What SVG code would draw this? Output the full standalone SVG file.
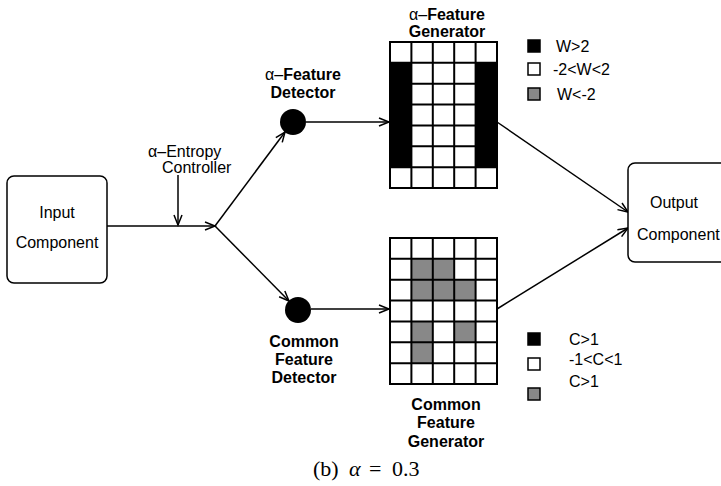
<svg xmlns="http://www.w3.org/2000/svg" width="721" height="486" viewBox="0 0 721 486">
<defs>
<style>
.t{font-family:"Liberation Sans",Arial,sans-serif;font-size:16px;fill:#000}
.b{font-weight:bold}
.lg{font-family:"Liberation Sans",Arial,sans-serif;font-size:16px;fill:#000}
.ln{stroke:#000;stroke-width:1.5;fill:none}
.box{fill:#fff;stroke:#000;stroke-width:1.5}
.gl{stroke:#000;stroke-width:2;fill:none}
.sq{stroke:#000;stroke-width:1.5}
</style>
<marker id="ah" markerUnits="userSpaceOnUse" markerWidth="14" markerHeight="12" refX="11" refY="5" orient="auto">
<path d="M1,1 L11,5 L1,9" fill="none" stroke="#000" stroke-width="1.5"/>
</marker>
</defs>
<rect width="721" height="486" fill="#fff"/>

<g id="connectors">
<line class="ln" x1="107" y1="226" x2="215" y2="226" marker-end="url(#ah)"/>
<line class="ln" x1="178" y1="175" x2="178" y2="225" marker-end="url(#ah)"/>
<line class="ln" x1="215" y1="226" x2="285" y2="132" marker-end="url(#ah)"/>
<line class="ln" x1="215" y1="226" x2="289" y2="301" marker-end="url(#ah)"/>
<line class="ln" x1="306" y1="122" x2="389" y2="122" marker-end="url(#ah)"/>
<line class="ln" x1="311" y1="309" x2="389" y2="309" marker-end="url(#ah)"/>
<line class="ln" x1="497" y1="122" x2="628" y2="212" marker-end="url(#ah)"/>
<line class="ln" x1="497" y1="309" x2="628" y2="228" marker-end="url(#ah)"/>
</g>

<g id="input">
<rect class="box" x="7" y="176" width="100" height="107" rx="7"/>
<text class="t" x="57" y="218" text-anchor="middle">Input</text>
<text class="t" x="57" y="248" text-anchor="middle">Component</text>
</g>

<g id="entropy">
<text class="t" x="148" y="157">α–Entropy</text>
<text class="t" x="162" y="173">Controller</text>
</g>

<g id="alpha-detector">
<circle cx="293" cy="122" r="13" fill="#000"/>
<text class="t b" x="303" y="80" text-anchor="middle"><tspan font-weight="normal">α–</tspan>Feature</text>
<text class="t b" x="303" y="98" text-anchor="middle">Detector</text>
</g>

<g id="common-detector">
<circle cx="298" cy="310" r="13" fill="#000"/>
<text class="t b" x="304" y="347" text-anchor="middle">Common</text>
<text class="t b" x="304" y="365" text-anchor="middle">Feature</text>
<text class="t b" x="304" y="383" text-anchor="middle">Detector</text>
</g>

<g id="alpha-generator">
<text class="t b" x="447" y="20" text-anchor="middle"><tspan font-weight="normal">α–</tspan>Feature</text>
<text class="t b" x="447" y="37" text-anchor="middle">Generator</text>
<rect x="390" y="42" width="107" height="146" fill="#fff"/>
<rect x="390" y="62.86" width="21.4" height="104.28" fill="#000"/>
<rect x="475.6" y="62.86" width="21.4" height="104.28" fill="#000"/>
<path class="gl" d="M390,42H497V188H390Z M411.4,42V188 M432.8,42V188 M454.2,42V188 M475.6,42V188 M390,62.86H497 M390,83.71H497 M390,104.57H497 M390,125.43H497 M390,146.29H497 M390,167.14H497"/>
</g>

<g id="common-generator">
<rect x="390" y="238" width="107" height="146" fill="#fff"/>
<g fill="#888">
<rect x="411.4" y="258.86" width="42.8" height="20.86"/>
<rect x="411.4" y="279.71" width="64.2" height="20.86"/>
<rect x="411.4" y="321.43" width="21.4" height="41.71"/>
<rect x="454.2" y="321.43" width="21.4" height="20.86"/>
</g>
<path class="gl" d="M390,238H497V384H390Z M411.4,238V384 M432.8,238V384 M454.2,238V384 M475.6,238V384 M390,258.86H497 M390,279.71H497 M390,300.57H497 M390,321.43H497 M390,342.29H497 M390,363.14H497"/>
<text class="t b" x="446" y="410" text-anchor="middle">Common</text>
<text class="t b" x="446" y="428" text-anchor="middle">Feature</text>
<text class="t b" x="446" y="447" text-anchor="middle">Generator</text>
</g>

<g id="output">
<rect class="box" x="628" y="163" width="110" height="99" rx="7"/>
<text class="t" x="674" y="208" text-anchor="middle">Output</text>
<text class="t" x="637" y="240">Component</text>
</g>

<g id="legend-w">
<rect class="sq" x="528" y="40" width="12" height="12" fill="#000"/>
<rect class="sq" x="528" y="63" width="12" height="12" fill="#fff"/>
<rect class="sq" x="528" y="88" width="12" height="12" fill="#888"/>
<text class="lg" x="556" y="52">W&gt;2</text>
<text class="lg" x="553" y="75">-2&lt;W&lt;2</text>
<text class="lg" x="557" y="100">W&lt;-2</text>
</g>

<g id="legend-c">
<rect class="sq" x="528" y="333" width="12" height="12" fill="#000"/>
<rect class="sq" x="528" y="358" width="12" height="12" fill="#fff"/>
<rect class="sq" x="528" y="388" width="12" height="12" fill="#888"/>
<text class="lg" x="569" y="345">C&gt;1</text>
<text class="lg" x="569" y="365">-1&lt;C&lt;1</text>
<text class="lg" x="569" y="387">C&gt;1</text>
</g>

<g id="caption" font-family="'Liberation Serif','Times New Roman',serif" font-size="22" fill="#000">
<text x="313" y="476">(b)</text>
<text x="349" y="476" font-style="italic">α</text>
<text x="369" y="476">=</text>
<text x="392" y="476">0.3</text>
</g>
</svg>
